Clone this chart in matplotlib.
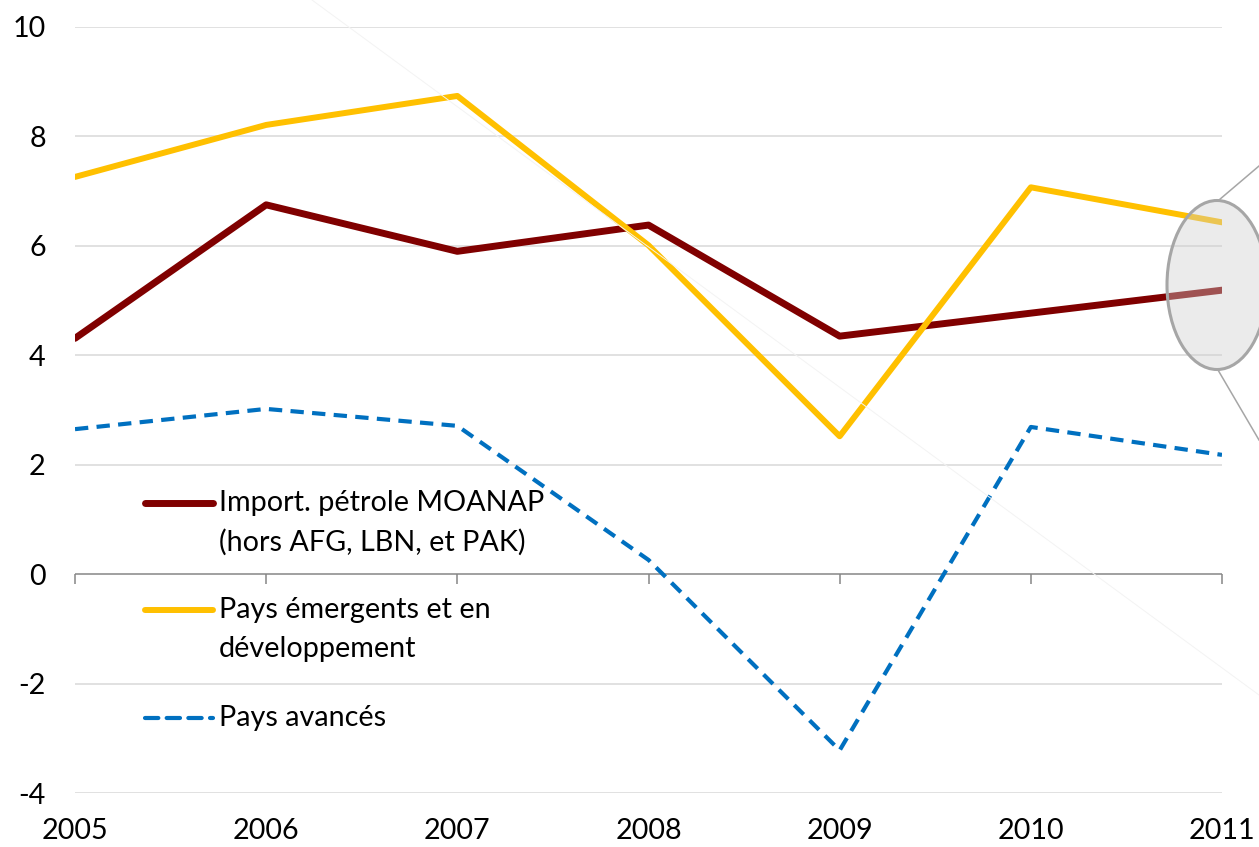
import matplotlib
matplotlib.use("Agg")
import matplotlib.pyplot as plt
from matplotlib.patches import Ellipse
from matplotlib.lines import Line2D

years = [2005, 2006, 2007, 2008, 2009, 2010, 2011]
moanap = [4.31, 6.75, 5.90, 6.38, 4.35, 4.77, 5.19]
emergents = [7.26, 8.21, 8.74, 6.01, 2.52, 7.07, 6.43]
avances = [2.65, 3.02, 2.71, 0.26, -3.22, 2.69, 2.18]

labels = ["Import. pétrole MOANAP\n(hors AFG, LBN, et PAK)",
          "Pays émergents et en\ndéveloppement",
          "Pays avancés"]
yticks = [-4, -2, 0, 2, 4, 6, 8, 10]

plt.rcParams['font.family'] = ['Lato', 'DejaVu Sans']
FS = 20.7

fig = plt.figure(figsize=(12.59, 8.47), dpi=100)
W, H = 1259, 847
ax = fig.add_axes([75 / W, 1 - 793 / H, (1222 - 75) / W, (793 - 27) / H])

# faint diagonal artifact
fig.add_artist(Line2D([312 / W, 1259 / W], [1, 1 - 695 / H], color='#f3f3f3',
                      lw=0.7, zorder=0.5))

# gridlines
for y in yticks:
    if y == 0:
        continue
    ax.axhline(y, color='#d9d9d9', lw=1.1, zorder=1)
ax.axhline(0, color='#868686', lw=1.1, zorder=1.5)
ax.plot(years, [0] * len(years), ls='', marker=3, ms=7.5, mew=1.1,
        color='#868686', zorder=1.5, clip_on=False)

styles = [
    dict(color='#800000', lw=5.0, ls='-'),
    dict(color='#FFC000', lw=4.3, ls='-'),
    dict(color='#0070C0', lw=3.0, ls=(0, (3.2, 2.0))),
]
series = [moanap, emergents, avances]
for vals, st in zip(series, styles):
    ax.plot(years, vals, color=st['color'], lw=st['lw'], ls=st['ls'],
            solid_joinstyle='round', solid_capstyle='round',
            dash_capstyle='butt', zorder=3)

ax.set_xlim(2005, 2011)
ax.set_ylim(-4, 10)
ax.set_yticks(yticks)
ax.set_yticklabels([str(v) for v in yticks])
ax.set_xticks(years)
ax.set_xticklabels([str(v) for v in years])
ax.tick_params(axis='y', length=0, pad=21, labelsize=FS)
ax.tick_params(axis='x', length=0, pad=18, labelsize=FS)
for s in ax.spines.values():
    s.set_visible(False)

# manual legend (handle aligned with first text line)
px2x = lambda px: 2005 + (px - 75) / ((1222 - 75) / 6)
py2y = lambda py: (574 - py) / ((793 - 27) / 14)
leg_y = [503, 610, 718]
line_gap = 39
for lab, st, yp in zip(labels, styles, leg_y):
    ax.plot([px2x(145), px2x(213)], [py2y(yp)] * 2, color=st['color'],
            lw=st['lw'], ls=st['ls'], solid_capstyle='round',
            dash_capstyle='round', zorder=4)
    for i, ln in enumerate(lab.split("\n")):
        ax.text(px2x(219), py2y(yp + i * line_gap), ln, fontsize=FS,
                va='center', ha='left', color='#000000', zorder=4)

# highlight ellipse and connectors
ell = Ellipse((1217 / W, 1 - 285 / H), 100 / W, 169 / H,
              transform=fig.transFigure, facecolor=(207 / 255, 207 / 255, 207 / 255, 0.4),
              edgecolor='#a6a6a6', lw=2.2, zorder=10)
fig.add_artist(ell)
fig.add_artist(Line2D([1219 / W, 1259 / W], [1 - 200 / H, 1 - 166 / H],
                      color='#a6a6a6', lw=1.1, zorder=9))
fig.add_artist(Line2D([1218 / W, 1259 / W], [1 - 370 / H, 1 - 440 / H],
                      color='#a6a6a6', lw=1.1, zorder=9))

fig.savefig("out.png", dpi=100, facecolor='white')
